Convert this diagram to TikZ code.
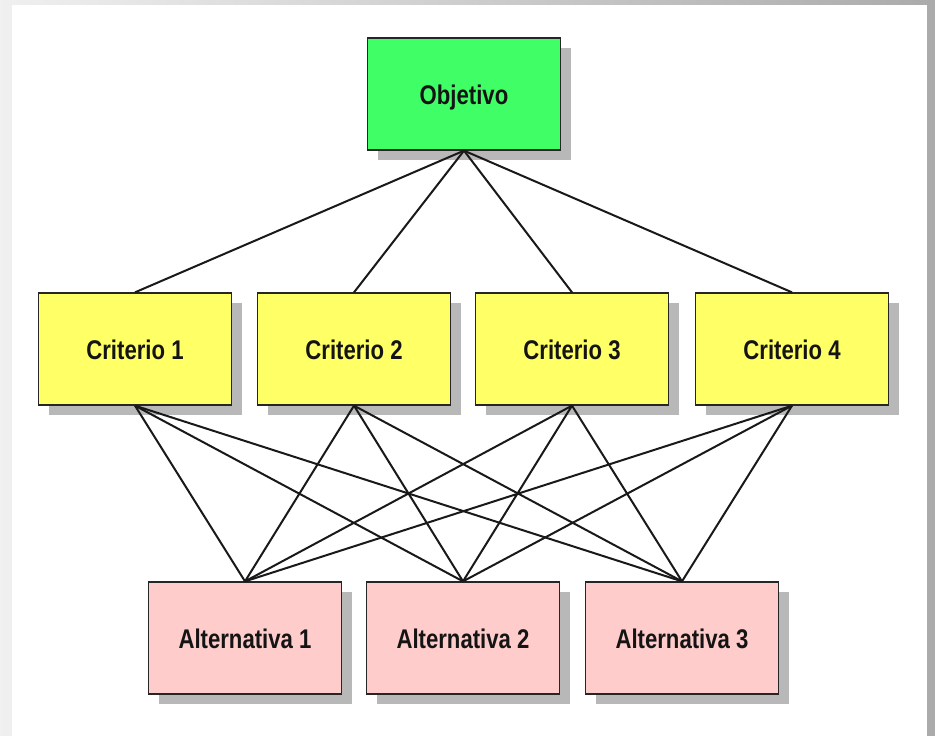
\documentclass[tikz,border=0pt]{standalone}
\usepackage{fontspec}
\usepackage{graphicx}
\setmainfont{Liberation Sans}
\newcommand{\boxlbl}[1]{\scalebox{0.82}[1]{#1}}
\begin{document}
\begin{tikzpicture}[x=1pt,y=-1pt,
  box/.style={draw=black!85, line width=1.3pt, minimum width=193pt, minimum height=112pt,
    inner sep=0pt, text height=24pt, text depth=3pt,
    font=\bfseries\fontsize{27}{30}\selectfont, text=black!92},
  shadowed/.style={preaction={fill=black!28, transform canvas={shift={(10pt,-10pt)}}}},
  goal/.style={box, shadowed, fill={rgb,255:red,64;green,255;blue,102}},
  crit/.style={box, shadowed, fill={rgb,255:red,255;green,255;blue,102}},
  alt/.style={box, shadowed, fill={rgb,255:red,255;green,204;blue,204}},
  link/.style={line width=2pt, black!90}]
\useasboundingbox (0,0) rectangle (935,736);
\shade[left color=black!6, right color=black!33] (0,0) rectangle (935,736);
\fill[white] (12,5) rectangle (927,736);
\node[goal] (obj) at (464,94) {\boxlbl{Objetivo}};
\node[crit] (c1) at (135,349) {\boxlbl{Criterio 1}};
\node[crit] (c2) at (354,349) {\boxlbl{Criterio 2}};
\node[crit] (c3) at (572,349) {\boxlbl{Criterio 3}};
\node[crit] (c4) at (792,349) {\boxlbl{Criterio 4}};
\node[alt] (a1) at (245,638) {\boxlbl{Alternativa 1}};
\node[alt] (a2) at (463,638) {\boxlbl{Alternativa 2}};
\node[alt] (a3) at (682,638) {\boxlbl{Alternativa 3}};
\foreach \c in {c1,c2,c3,c4}{
  \draw[link] (obj.south) -- (\c.north);
  \foreach \a in {a1,a2,a3}{
    \draw[link] (\c.south) -- (\a.north);
  }
}
\end{tikzpicture}
\end{document}
